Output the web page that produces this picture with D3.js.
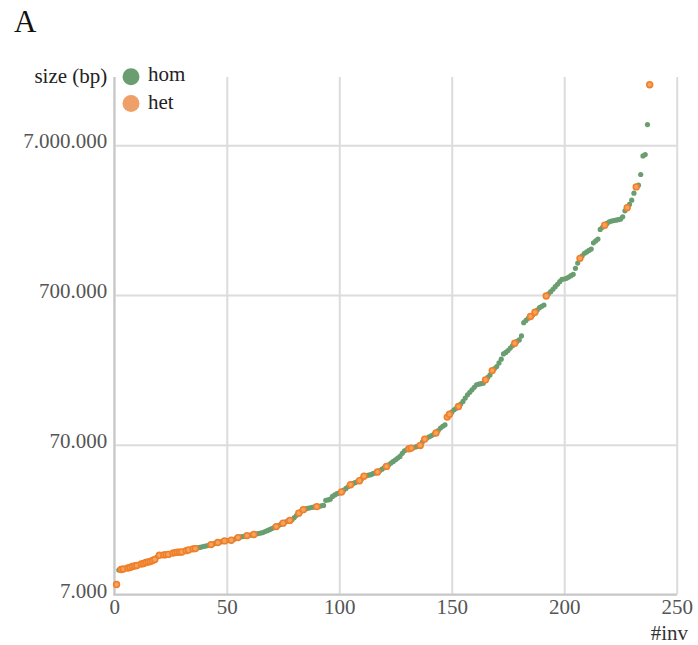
<!DOCTYPE html>
<html><head><meta charset="utf-8">
<script src="https://cdn.jsdelivr.net/npm/d3@7"></script>
<style>
body{margin:0;background:#fff}
svg{display:block}
text{font-family:"Liberation Serif","Times New Roman",serif}
</style>
</head><body><div id="chart"></div>
<script>
// inversion sizes (bp), sorted by rank #inv = 1..238
const sizes = [
8160,10200,10280,10350,10440,10520,10600,10760,10840,10930,
11090,11180,11270,11440,11530,11620,11800,11980,12450,12790,
12830,12870,12930,12970,13130,13230,13330,13390,13430,13470,
13630,13740,13900,14010,14120,14180,14330,14440,14570,14680,
14800,14930,15080,15230,15400,15560,15650,15820,15960,16010,
16060,16130,16280,16530,16790,16970,17050,17180,17320,17390,
17530,17630,17770,17850,17990,18130,18410,18690,18980,19280,
19580,19880,20190,20560,20970,21350,21610,21880,22130,22830,
23660,24460,25140,25810,26090,26330,26530,26730,26900,27020,
27140,27350,27560,29780,29970,30330,31640,32340,33000,33410,
33870,34820,35790,36840,37880,38470,39070,39670,40280,41540,
43160,43490,43830,44170,44850,45410,46030,46980,48060,49180,
50170,51490,52820,54190,55600,57040,58460,61370,63840,65030,
65780,66500,67110,67750,68620,69250,73290,76380,77570,79150,
80620,82250,83790,87060,90460,93010,95140,107100,111800,115600,
119800,122600,126000,131000,136200,143400,150800,156700,162800,169200,
175800,177700,179100,180500,189900,197200,205000,218900,225800,232900,
246500,260900,283100,289700,297800,309500,321000,333500,342800,350800,
373100,457500,473300,489600,503300,514900,536800,556000,576000,588500,
600400,689300,713300,736400,765100,795200,826000,858900,891100,895300,
904400,922600,942900,961800,1054900,1144500,1229900,1278200,1327900,1358700,
1388800,1418900,1562400,1608600,1654100,1919400,1985200,2050300,2104200,2158100,
2181200,2198000,2213400,2230900,2248400,2328900,2553600,2681700,2816800,3009300,
3350200,3690400,3788400,4464600,5942300,6068300,9618000,17773000
];
// ranks that are heterozygous; all others homozygous
const hetRanks = [1,3,4,6,7,8,9,10,12,13,14,15,16,17,18,20,22,23,24,26,27,28,29,30,32,33,35,36,
43,46,49,52,55,59,62,72,75,78,82,84,90,101,105,109,111,117,121,131,132,136,138,143,148,149,153,
165,168,178,185,187,192,207,218,228,232,238];
const xTicks = [0,50,100,150,200,250];
const yTicks = [7000,70000,700000,7000000];
const legendLabels = ["hom","het"];
const colors = {hom:"#6a9e70", het:"#f07f2a", hetFill:"#f6a35e", hetLegend:"#efa068"};

const W=698,H=645;
const m={left:114.3,right:676.7,top:77,bottom:594.5};
const svg=d3.select("#chart").append("svg").attr("width",W).attr("height",H);
const x=d3.scaleLinear().domain([0,250]).range([m.left,m.right]);
const y=d3.scaleLog().domain([7000,20000000]).range([m.bottom,m.top]);
const loc=d3.formatLocale({decimal:",",thousands:".",grouping:[3],currency:["","€"]});
const fmt=loc.format(",d");

// y grid + labels
const gY=svg.append("g").attr("transform",`translate(${m.left},0)`)
  .call(d3.axisLeft(y).tickValues(yTicks).tickFormat(fmt).tickSize(-(m.right-m.left)).tickPadding(7));
gY.select(".domain").remove();
gY.selectAll("line").attr("stroke","#dcdcdc").attr("stroke-width",2);
gY.selectAll("text").attr("font-size",21).attr("fill","#555").attr("dy","0.12em")
  .style("font-family","'Liberation Serif',serif");

// x grid + labels
const gX=svg.append("g").attr("transform",`translate(0,${m.bottom})`)
  .call(d3.axisBottom(x).tickValues(xTicks).tickFormat(d3.format("d")).tickSize(-(m.bottom-m.top)).tickPadding(0));
gX.select(".domain").remove();
gX.selectAll("line").attr("stroke","#dcdcdc").attr("stroke-width",2);
gX.selectAll("text").attr("font-size",21).attr("fill","#555").attr("y",19.5).attr("dy",0)
  .style("font-family","'Liberation Serif',serif");

// axis lines
svg.append("line").attr("x1",m.left).attr("x2",m.left).attr("y1",m.top).attr("y2",m.bottom+1)
  .attr("stroke","#c8c8c8").attr("stroke-width",2);
svg.append("line").attr("x1",m.left-1).attr("x2",m.right).attr("y1",m.bottom).attr("y2",m.bottom)
  .attr("stroke","#c8c8c8").attr("stroke-width",2);

const data=sizes.map((v,i)=>({rank:i+1,size:v,gt:hetRanks.includes(i+1)?"het":"hom"}));

svg.append("g").selectAll("circle").data(data.filter(d=>d.gt==="hom")).join("circle")
  .attr("cx",d=>x(d.rank)).attr("cy",d=>y(d.size)).attr("r",2.6).attr("fill",colors.hom);
svg.append("g").selectAll("circle").data(data.filter(d=>d.gt==="het")).join("circle")
  .attr("cx",d=>x(d.rank)).attr("cy",d=>y(d.size)).attr("r",2.9)
  .attr("fill",colors.hetFill).attr("stroke",colors.het).attr("stroke-width",1.6);

// titles
svg.append("text").attr("x",14).attr("y",32).attr("font-size",31).attr("fill","#111").text("A");
svg.append("text").attr("x",107.3).attr("y",83).attr("text-anchor","end").attr("font-size",21).attr("fill","#222").text("size (bp)");
svg.append("text").attr("x",688).attr("y",640).attr("text-anchor","end").attr("font-size",21).attr("fill","#333").text("#inv");

// legend
const lg=svg.append("g");
legendLabels.forEach((l,i)=>{
  lg.append("circle").attr("cx",131).attr("cy",76.7+i*26.7).attr("r",8.5)
    .attr("fill",l==="hom"?colors.hom:colors.hetLegend);
  lg.append("text").attr("x",148).attr("y",81+i*27.5).attr("font-size",21).attr("fill","#222").text(l);
});
</script></body></html>
